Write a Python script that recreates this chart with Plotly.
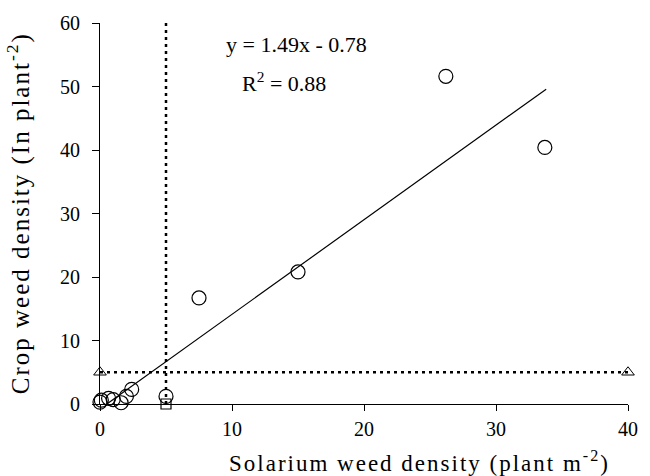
import plotly.graph_objects as go

# Data
circle_x = [0.0, 0.1, 0.65, 1.0, 1.6, 2.0, 2.4, 5.0, 7.5, 15.0, 26.2, 33.7]
circle_y = [0.3, 0.6, 0.9, 0.7, 0.2, 1.2, 2.3, 1.2, 16.7, 20.8, 51.6, 40.4]
triangle_x = [0, 40]
triangle_y = [5, 5]
square_x = [5.0]
square_y = [0.0]
slope, intercept = 1.49, -0.78
fit_x = [0.6, 33.8]
fit_y = [slope * v + intercept for v in fit_x]
hline_x = [0, 40]
hline_y = [5, 5]
vline_x = [5, 5]
vline_y = [0, 60]
x_ticks = [0, 10, 20, 30, 40]
y_ticks = [0, 10, 20, 30, 40, 50, 60]

FONT = "Liberation Serif"
fig = go.Figure()
fig.add_trace(go.Scatter(x=hline_x, y=hline_y, mode="lines",
                         line=dict(color="black", width=2.5, dash="3px,4px"),
                         cliponaxis=False, showlegend=False))
fig.add_trace(go.Scatter(x=vline_x, y=vline_y, mode="lines",
                         line=dict(color="black", width=2.5, dash="3px,4px"),
                         cliponaxis=False, showlegend=False))
fig.add_trace(go.Scatter(x=fit_x, y=fit_y, mode="lines",
                         line=dict(color="black", width=1.2),
                         cliponaxis=False, showlegend=False))
fig.add_trace(go.Scatter(x=circle_x, y=circle_y, mode="markers",
                         marker=dict(symbol="circle-open", size=14, color="black",
                                     line=dict(width=1.2, color="black")),
                         cliponaxis=False, showlegend=False))
fig.add_trace(go.Scatter(x=triangle_x, y=triangle_y, mode="markers",
                         marker=dict(symbol="triangle-up-open", size=11, color="black",
                                     line=dict(width=1, color="black")),
                         cliponaxis=False, showlegend=False))
fig.add_trace(go.Scatter(x=square_x, y=square_y, mode="markers",
                         marker=dict(symbol="square-open", size=10, color="black",
                                     line=dict(width=1.2, color="black")),
                         cliponaxis=False, showlegend=False))

fig.add_annotation(x=0.372, y=0.943, xref="paper", yref="paper",
                   xanchor="center", yanchor="middle",
                   text="y = 1.49x - 0.78", showarrow=False,
                   font=dict(family=FONT, size=22, color="black"))
fig.add_annotation(x=0.348, y=0.846, xref="paper", yref="paper",
                   xanchor="center", yanchor="middle",
                   text="R<sup>2</sup> = 0.88", showarrow=False,
                   font=dict(family=FONT, size=22, color="black"))
fig.add_annotation(x=0.606, y=-0.152, xref="paper", yref="paper",
                   xanchor="center", yanchor="middle", name="xtitle",
                   text="Solarium weed density (plant m<sup>-2</sup>)", showarrow=False,
                   font=dict(family=FONT, size=23, color="black"))
fig.add_annotation(x=-0.154, y=0.5, xref="paper", yref="paper",
                   xanchor="center", yanchor="middle", textangle=-90, name="ytitle",
                   text="Crop weed density (In plant<sup>-2</sup>)", showarrow=False,
                   font=dict(family=FONT, size=25, color="black"))

fig.update_layout(
    width=650, height=476,
    margin=dict(l=100, r=12, t=21, b=72),
    paper_bgcolor="white", plot_bgcolor="white",
    font=dict(family=FONT, size=20, color="black"),
    xaxis=dict(range=[0, 40], tickvals=x_ticks, showgrid=False, zeroline=False,
               showline=True, linecolor="black", linewidth=1,
               ticks="outside", ticklen=6, tickcolor="black",
               ticklabelstandoff=1),
    yaxis=dict(range=[0, 60], tickvals=y_ticks, showgrid=False, zeroline=False,
               showline=True, linecolor="black", linewidth=1,
               ticks="outside", ticklen=7, tickcolor="black",
               ticklabelstandoff=8),
)

post = """
var spread = function(){
  var anns = document.querySelectorAll('.annotation-text');
  anns.forEach(function(t){
    var s = t.textContent || '';
    if (s.indexOf('density') >= 0) { t.style.letterSpacing = '2px'; }
  });
};
spread();
"""
fig.write_html("out.html", post_script=post)
